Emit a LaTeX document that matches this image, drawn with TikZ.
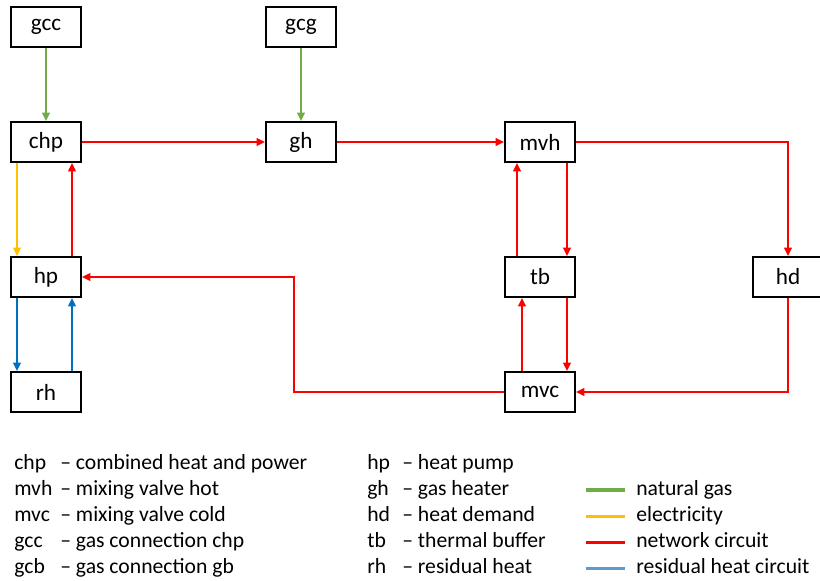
\documentclass[tikz,border=0pt]{standalone}
\usepackage{fontspec}
\setmainfont{Carlito}
\usetikzlibrary{calc,arrows.meta}
\definecolor{gas}{RGB}{112,173,71}
\definecolor{elec}{RGB}{255,192,0}
\definecolor{net}{RGB}{255,0,0}
\definecolor{res}{RGB}{0,112,192}
\definecolor{reslg}{RGB}{91,155,213}
\tikzstyle{bx}=[draw, line width=1.42pt, minimum width=1.75cm, minimum height=1cm, inner sep=0, font=\fontsize{16.5}{19}\selectfont]
\tikzstyle{ln}=[line width=1.42pt, -{Triangle[length=6pt,width=5.5pt]}]
\tikzstyle{lg}=[inner sep=0, anchor=base west, font=\fontsize{15.4}{18}\selectfont]

\begin{document}
\begin{tikzpicture}[x=0.025cm,y=-0.025cm]
\useasboundingbox (0,0) rectangle (820,580);
\node[bx] (gcc) at (46,27) {gcc};
\node[bx] (gcg) at (301,27) {gcg};
\node[bx] (chp) at (46,142) {chp};
\node[bx] (gh) at (301,142) {gh};
\node[bx] (mvh) at (540,142) {mvh};
\node[bx] (hp) at (46,277) {hp};
\node[bx] (tb) at (540,277) {tb};
\node[bx] (hd) at (788,277) {hd};
\node[bx] (rh) at (46,392) {rh};
\node[bx] (mvc) at (540,392) {mvc};
% gas
\draw[ln,gas] (gcc) -- (chp);
\draw[ln,gas] (gcg) -- (gh);
% electricity and heat pump
\draw[ln,elec] ($(chp.south west)+(7,0)$) -- ($(hp.north west)+(7,0)$);
\draw[ln,net] ($(hp.north east)+(-10,0)$) -- ($(chp.south east)+(-10,0)$);
\draw[ln,res] ($(hp.south west)+(7,0)$) -- ($(rh.north west)+(7,0)$);
\draw[ln,res] ($(rh.north east)+(-10,0)$) -- ($(hp.south east)+(-10,0)$);
% network
\draw[ln,net] (chp) -- (gh);
\draw[ln,net] (gh) -- (mvh);
\draw[ln,net] (mvh.east) -| (hd.north);
\draw[ln,net] (hd.south) |- (mvc.east);
\draw[ln,net] (mvc.west) -| ($(hp.east)+(212,0)$) -- (hp.east);
\draw[ln,net] ($(mvh.south east)+(-9,0)$) -- ($(tb.north east)+(-9,0)$);
\draw[ln,net] ($(tb.north west)+(13,0)$) -- ($(mvh.south west)+(13,0)$);
\draw[ln,net] ($(tb.south east)+(-9,0)$) -- ($(mvc.north east)+(-9,0)$);
\draw[ln,net] ($(mvc.north west)+(18,0)$) -- ($(tb.south west)+(18,0)$);
% legend
\foreach \ab/\txt [count=\i] in {chp/combined heat and power, mvh/mixing valve hot, mvc/mixing valve cold, gcc/gas connection chp, gcb/gas connection gb}{
  \node[lg] (ka\i) at (14,{469+26.2*(\i-1)}) {\ab};
  \node[lg] (ta\i) at (60,{469+26.2*(\i-1)}) {– \txt};
}
\foreach \ab/\txt [count=\i] in {hp/heat pump, gh/gas heater, hd/heat demand, tb/thermal buffer, rh/residual heat}{
  \node[lg] (kb\i) at (367,{469+26.2*(\i-1)}) {\ab};
  \node[lg] (tb\i) at (402,{469+26.2*(\i-1)}) {– \txt};
}
\foreach \c/\txt [count=\i] in {gas/natural gas, elec/electricity, net/network circuit, reslg/residual heat circuit}{
  \draw[\c, line width=2.2pt] (586,{490+26.2*(\i-1)}) -- (625,{490+26.2*(\i-1)});
  \node[lg] (tc\i) at (636,{495+26.2*(\i-1)}) {\txt};
}
\end{tikzpicture}
\end{document}
